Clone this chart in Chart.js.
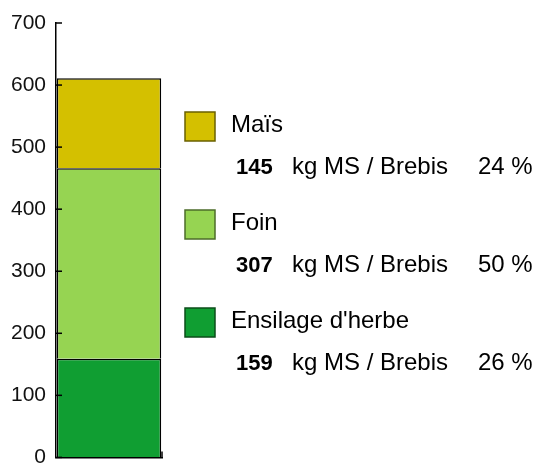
<!DOCTYPE html>
<html>
<head>
<meta charset="utf-8">
<script src="https://cdn.jsdelivr.net/npm/chart.js@4"></script>
<style>
  html, body { margin: 0; padding: 0; background: #fff; overflow: hidden; }
  #wrap { position: relative; width: 537px; height: 480px; }
</style>
</head>
<body>
<div id="wrap"><canvas id="feedChart"></canvas></div>
<script>
// stacked from bottom to top
const categories = ['Brebis'];
const seriesNames = ['Ensilage d\'herbe', 'Foin', 'Maïs'];
const seriesValues = [159, 307, 145];
const seriesColors = ['#109e32', '#96d452', '#d4c000'];
const legendBorders = ['#0b4d1a', '#4c6c2a', '#6a6000'];
const yTicks = [0, 100, 200, 300, 400, 500, 600, 700];
const unitLabel = 'kg MS / Brebis';

const total = seriesValues.reduce((a, b) => a + b, 0);

// short tick marks pointing into the plot, and the custom legend on the right
const decorations = {
    id: 'decorations',
    afterDraw(chart) {
        const ctx = chart.ctx;
        const y = chart.scales.y;
        const area = chart.chartArea;
        ctx.save();
        ctx.strokeStyle = '#000';
        ctx.lineWidth = 1.5;
        y.ticks.forEach((t, i) => {
            const py = y.getPixelForTick(i);
            ctx.beginPath();
            ctx.moveTo(area.left, py);
            ctx.lineTo(area.left + 6, py);
            ctx.stroke();
        });
        ctx.beginPath();
        ctx.moveTo(area.right, area.bottom);
        ctx.lineTo(area.right, area.bottom - 6);
        ctx.stroke();

        // legend, top item is the last series
        const top = 112;
        const gap = 98;
        for (let k = 0; k < seriesNames.length; k++) {
            const i = seriesNames.length - 1 - k;
            const oy = top + k * gap;
            ctx.fillStyle = seriesColors[i];
            ctx.fillRect(185, oy, 30, 29);
            ctx.strokeStyle = legendBorders[i];
            ctx.lineWidth = 1.5;
            ctx.strokeRect(185, oy, 30, 29);

            ctx.fillStyle = '#000';
            ctx.textAlign = 'left';
            ctx.textBaseline = 'alphabetic';
            ctx.font = '24px "Liberation Sans", Arial, sans-serif';
            ctx.fillText(seriesNames[i], 231, oy + 20);

            ctx.font = 'bold 22px "Liberation Sans", Arial, sans-serif';
            ctx.fillText(String(seriesValues[i]), 236, oy + 62);
            ctx.font = '24px "Liberation Sans", Arial, sans-serif';
            ctx.fillText(unitLabel, 292, oy + 62);
            ctx.fillText(Math.round(seriesValues[i] / total * 100) + ' %', 478, oy + 62);
        }
        ctx.restore();
    }
};

const ctx = document.getElementById('feedChart').getContext('2d');
const feedChart = new Chart(ctx, {
    type: 'bar',
    data: {
        labels: categories,
        datasets: seriesNames.map((name, i) => ({
            label: name,
            data: [seriesValues[i]],
            backgroundColor: seriesColors[i],
            borderColor: '#000',
            borderWidth: 1.5,
            borderSkipped: 'bottom',
            categoryPercentage: 1,
            barPercentage: 0.985
        }))
    },
    options: {
        responsive: true,
        maintainAspectRatio: false,
        animation: false,
        layout: {
            padding: { top: 23, right: 375, bottom: 20, left: 0 }
        },
        scales: {
            x: {
                stacked: true,
                ticks: { display: false },
                grid: { display: true, drawOnChartArea: false, drawTicks: false },
                border: { display: true, color: '#000', width: 1.5 },
                afterFit(scale) { scale.height = 0; }
            },
            y: {
                stacked: true,
                min: 0,
                max: 700,
                afterBuildTicks(scale) {
                    scale.ticks = yTicks.map(v => ({ value: v }));
                },
                ticks: {
                    color: '#111',
                    padding: 10,
                    font: { family: '"Liberation Sans", Arial, sans-serif', size: 21 }
                },
                grid: { drawOnChartArea: false, drawTicks: false },
                border: { display: true, color: '#000', width: 1.5 },
                afterFit(scale) { scale.width = 56; }
            }
        },
        plugins: {
            legend: { display: false },
            tooltip: { enabled: false }
        }
    },
    plugins: [decorations]
});
</script>
</body>
</html>
